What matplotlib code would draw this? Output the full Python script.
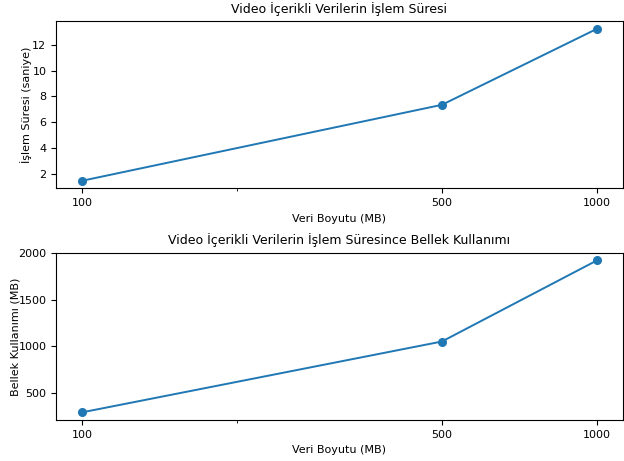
import matplotlib.pyplot as plt

# ölçüm sonuçları
veri_boyutu = [100, 500, 1000]
islem_suresi = [1.46, 7.35, 13.24]
bellek_kullanimi = [290, 1050, 1920]

plt.rcParams["font.size"] = 8

fig, (ax1, ax2) = plt.subplots(2, 1, figsize=(6.24, 4.61), dpi=100)

ax1.plot(veri_boyutu, islem_suresi, marker="o", markersize=5.5, linewidth=1.4)
ax1.set_xscale("log")
ax1.set_xticks(veri_boyutu)
ax1.set_xticklabels([str(v) for v in veri_boyutu])
ax1.set_xticks([200], minor=True)
ax1.set_xticklabels([""], minor=True)
ax1.set_title("Video İçerikli Verilerin İşlem Süresi", fontsize=9)
ax1.set_xlabel("Veri Boyutu (MB)")
ax1.set_ylabel("İşlem Süresi (saniye)")
ax1.yaxis.set_label_coords(-0.042, 0.5)

ax2.plot(veri_boyutu, bellek_kullanimi, marker="o", markersize=5.5, linewidth=1.4)
ax2.set_xscale("log")
ax2.set_xticks(veri_boyutu)
ax2.set_xticklabels([str(v) for v in veri_boyutu])
ax2.set_xticks([200], minor=True)
ax2.set_xticklabels([""], minor=True)
ax2.set_title("Video İçerikli Verilerin İşlem Süresince Bellek Kullanımı", fontsize=9)
ax2.set_xlabel("Veri Boyutu (MB)")
ax2.set_ylabel("Bellek Kullanımı (MB)")
ax2.yaxis.set_label_coords(-0.063, 0.5)

fig.subplots_adjust(left=0.09, right=0.998, top=0.954, bottom=0.089, hspace=0.385)
plt.savefig("out.png")
